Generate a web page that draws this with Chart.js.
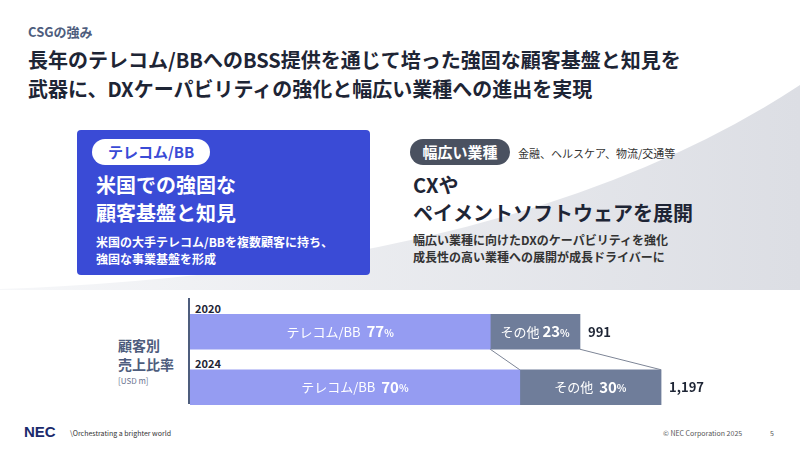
<!DOCTYPE html><html><head><meta charset="utf-8">
<script src="https://cdn.jsdelivr.net/npm/chart.js@4"></script>
<style>
body{margin:0;width:800px;height:450px;position:relative;background:#fff;font-family:"Noto Sans CJK JP","Noto Sans",sans-serif;overflow:hidden}
.a{position:absolute;white-space:nowrap}
</style></head><body>
<svg class="a" style="left:0;top:0" width="800" height="450">
<defs><linearGradient id="g" x1="0" x2="1" y1="0" y2="0"><stop offset="0" stop-color="#f6f7f9"/><stop offset="1" stop-color="#dcdee4"/></linearGradient></defs>
<path d="M0,290 L0,289 Q520,270 800,85 L800,290 Z" fill="url(#g)"/>
</svg>
<div class="a" style="left:28px;top:22px;font-size:13px;font-weight:bold;color:#4e5d7d">CSGの強み</div>
<div class="a" style="left:28px;top:45px;font-size:20px;font-weight:bold;color:#1e2535;line-height:29px">長年のテレコム/BBへのBSS提供を通じて培った強固な顧客基盤と知見を<br>武器に、DXケーパビリティの強化と幅広い業種への進出を実現</div>
<div class="a" style="left:77px;top:130px;width:293px;height:145px;background:#3a4bd6;border-radius:4px"></div>
<div class="a" style="left:92px;top:139px;width:118px;height:26px;background:#fff;border-radius:13px;color:#3a4bd6;font-size:15px;font-weight:bold;text-align:center;line-height:26px">テレコム/BB</div>
<div class="a" style="left:96px;top:171px;font-size:20px;font-weight:bold;color:#fff;line-height:28px">米国での強固な<br>顧客基盤と知見</div>
<div class="a" style="left:96px;top:233px;font-size:12px;font-weight:bold;color:#fff;line-height:17px">米国の大手テレコム/BBを複数顧客に持ち、<br>強固な事業基盤を形成</div>
<div class="a" style="left:410px;top:139px;width:100px;height:26px;background:#4a5160;border-radius:13px;color:#fff;font-size:15px;font-weight:bold;text-align:center;line-height:26px">幅広い業種</div>
<div class="a" style="left:518px;top:145px;font-size:11px;color:#333">金融、ヘルスケア、物流/交通等</div>
<div class="a" style="left:413px;top:171px;font-size:20px;font-weight:bold;color:#1e2535;line-height:28px">CXや<br>ペイメントソフトウェアを展開</div>
<div class="a" style="left:413px;top:231px;font-size:12px;font-weight:bold;color:#333;line-height:17px">幅広い業種に向けたDXのケーパビリティを強化<br>成長性の高い業種への展開が成長ドライバーに</div>
<div class="a" style="left:118px;top:336px;font-size:14px;font-weight:bold;color:#4e5d7d;line-height:18px">顧客別</div>
<div class="a" style="left:118px;top:355px;font-size:14px;font-weight:bold;color:#4e5d7d;line-height:18px">売上比率</div>
<div class="a" style="left:118px;top:376px;font-size:8px;color:#6b7490;line-height:10px">[USD m]</div>
<div class="a" style="left:188px;top:298px;width:2px;height:106px;background:#4e5d7d"></div>
<div class="a" style="left:195px;top:300px;font-size:11px;font-weight:bold;color:#1e2535">2020</div>
<div class="a" style="left:195px;top:355px;font-size:11px;font-weight:bold;color:#1e2535">2024</div>
<div class="a" style="left:190px;top:304px;width:560px;height:111px"><canvas id="c"></canvas></div>
<div class="a" style="left:24px;top:423px;font-size:15px;font-weight:900;color:#1a2a6c;font-family:'Liberation Sans'">NEC</div>
<div class="a" style="left:70px;top:428px;font-size:7px;color:#333">\Orchestrating a brighter world</div>
<div class="a" style="left:663px;top:428px;font-size:7px;color:#555">© NEC Corporation 2025</div>
<div class="a" style="left:770px;top:428px;font-size:7px;color:#555">5</div>
<script>
const years=["2020","2024"];
const telecom=[763,838];
const other=[228,359];
const telecomPct=["77","70"];
const otherPct=["23","30"];
const totals=["991","1,197"];
const seg={id:'seg',afterDatasetsDraw(ch){const c=ch.ctx,x=ch.scales.x;
 const m0=ch.getDatasetMeta(0).data,m1=ch.getDatasetMeta(1).data;
 c.save();c.strokeStyle='#7d8596';c.lineWidth=1;
 for(const [a,b] of [[m0[0].x,m0[1].x],[m1[0].x,m1[1].x]]){c.beginPath();c.moveTo(a,m0[0].y+17.5);c.lineTo(b,m0[1].y-17.5);c.stroke();}
 c.textBaseline='middle';c.textAlign='center';
 for(let i=0;i<2;i++){
  const y=m0[i].y;
  const draw=(cx,lab,pct)=>{c.font='13px "Noto Sans CJK JP"';const w1=c.measureText(lab).width;c.font='bold 15px "Noto Sans CJK JP"';const w2=c.measureText(pct).width;c.font='bold 10px "Noto Sans CJK JP"';const w3=c.measureText('%').width;
   let s=cx-(w1+w2+w3)/2;c.fillStyle='#fff';c.textAlign='left';c.font='13px "Noto Sans CJK JP"';c.fillText(lab,s,y);c.font='bold 15px "Noto Sans CJK JP"';c.fillText(pct,s+w1,y);c.font='bold 10px "Noto Sans CJK JP"';c.fillText('%',s+w1+w2,y+1);};
  draw(x.getPixelForValue(telecom[i]/2),'テレコム/BB  ',telecomPct[i]);
  draw(x.getPixelForValue(telecom[i]+other[i]/2),i?'その他  ':'その他 ',otherPct[i]);
  c.textAlign='left';c.fillStyle='#1e2535';c.font='bold 13px "Noto Sans CJK JP"';c.fillText(totals[i],m1[i].x+8,y);
 }c.restore();}};
new Chart(document.getElementById('c'),{type:'bar',data:{labels:years,datasets:[
 {data:telecom,backgroundColor:'#959cf2',barThickness:35},
 {data:other,backgroundColor:'#6f7d9a',barThickness:35}]},
 options:{indexAxis:'y',responsive:true,maintainAspectRatio:false,animation:false,
 layout:{padding:0},plugins:{legend:{display:false},tooltip:{enabled:false}},
 scales:{x:{stacked:true,display:false,min:0,max:1423},y:{stacked:true,display:false}}},plugins:[seg]});
</script></body></html>
